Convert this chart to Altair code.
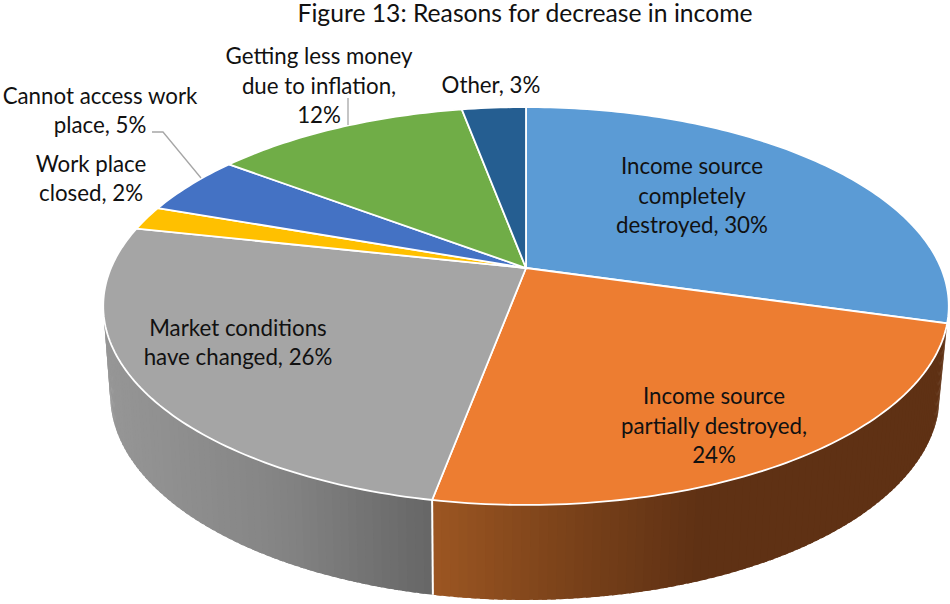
import math
import altair as alt

# Slice values in drawing order, clockwise from twelve o'clock
categories = [
    "Income source completely destroyed",
    "Income source partially destroyed",
    "Market conditions have changed",
    "Work place closed",
    "Cannot access work place",
    "Getting less money due to inflation",
    "Other",
]
values = [30, 24, 26, 2, 5, 12, 3]
slice_colors = ["#5B9BD5", "#ED7D31", "#A5A5A5", "#FFC000", "#4472C4", "#70AD47", "#255E91"]

TITLE = "Figure 13: Reasons for decrease in income"

# Text rows: string, horizontal centre, vertical centre
label_rows = [
    ("Income source", 692, 167), ("completely", 692, 197), ("destroyed, 30%", 692, 226),
    ("Income source", 714, 397), ("partially destroyed,", 714, 427), ("24%", 714, 456),
    ("Market conditions", 238, 329), ("have changed, 26%", 238, 358),
    ("Work place", 91, 165), ("closed, 2%", 91, 194),
    ("Cannot access work", 100, 97), ("place, 5%", 100, 126),
    ("Getting less money", 319, 57), ("due to inflation,", 319, 87), ("12%", 319, 116),
    ("Other, 3%", 491, 86),
]

# Perspective view of the disc: hub position, half-axes and foreshortening
HUB_X, HUB_Y = 526, 268
AX_X, AX_Y, PERSP = 415, 191.7, 0.191
# Ellipse centres and scale of the top and bottom rims
TOP_CX, TOP_CY = 526, 306
BOT_CX, BOT_CY = 525, 395
BOT_SX, BOT_SY = 415 / 423, 205 / 199


def top_point(fraction):
    a = 2 * math.pi * fraction
    u, v = math.sin(a), math.cos(a)
    w = 1 + PERSP * v
    return (HUB_X + AX_X * u / w, HUB_Y - AX_Y * v / w)


def bottom_point(fraction):
    x, y = top_point(fraction)
    return (BOT_CX + (x - TOP_CX) * BOT_SX, BOT_CY + (y - TOP_CY) * BOT_SY)


def mix(stops, x):
    """Interpolate a colour from (x, (r, g, b)) stops."""
    if x <= stops[0][0]:
        c = stops[0][1]
    elif x >= stops[-1][0]:
        c = stops[-1][1]
    else:
        for (x0, c0), (x1, c1) in zip(stops, stops[1:]):
            if x0 <= x <= x1:
                t = (x - x0) / (x1 - x0)
                c = tuple(a + (b - a) * t for a, b in zip(c0, c1))
                break
    return "#%02x%02x%02x" % tuple(round(p) for p in c)


def polygon(points, **props):
    ring = [list(p) for p in points] + [list(points[0])]
    return {"type": "Feature", "properties": props,
            "geometry": {"type": "Polygon", "coordinates": [ring]}}


def polyline(points, **props):
    return {"type": "Feature", "properties": props,
            "geometry": {"type": "LineString", "coordinates": [list(p) for p in points]}}


total = sum(values)
edges = [0.0]
for v in values:
    edges.append(edges[-1] + v / total)

# Shading of the rim walls, running left to right
orange_wall = [(433, (0x9C, 0x56, 0x22)), (560, (0x7C, 0x43, 0x1A)), (700, (0x5F, 0x31, 0x14))]
grey_wall = [(105, (0x96, 0x96, 0x96)), (280, (0x84, 0x84, 0x84)), (433, (0x66, 0x66, 0x66))]

# Each wall strip runs a little under the next one, so no seams show between them
wall_features = []
for first, last, stops in ((edges[1], edges[2], orange_wall), (edges[2], edges[3], grey_wall)):
    n = max(2, int((last - first) * 360))
    step = (last - first) / n
    for i in range(n):
        f0 = first + step * i
        f1 = min(last, f0 + step * 1.6)
        color = mix(stops, top_point(f0 + step / 2)[0])
        wall_features.append(polygon(
            [top_point(f0), top_point(f1), bottom_point(f1), bottom_point(f0)], fill=color))

top_features = []
for i, color in enumerate(slice_colors):
    n = max(2, int((edges[i + 1] - edges[i]) * 360))
    arc = [top_point(edges[i] + (edges[i + 1] - edges[i]) * j / n) for j in range(n + 1)]
    top_features.append(polygon([(HUB_X, HUB_Y)] + arc, fill=color, name=categories[i]))

seam = [polyline([top_point(edges[2]), bottom_point(edges[2])])]
leaders = [
    polyline([(152, 132), (163, 132), (201, 178)]),
    polyline([(348, 98), (348, 125)]),
]


def shapes(features, **mark):
    return alt.Chart(alt.Data(values=features)).mark_geoshape(**mark).project(
        type="identity", scale=1, translate=[0, 0])


walls = shapes(wall_features, strokeWidth=0).encode(
    fill=alt.Fill("properties.fill:N", scale=None),
)
seam_line = shapes(seam, filled=False, stroke="white", strokeWidth=2)
slices = shapes(top_features, stroke="white", strokeWidth=1.8).encode(
    fill=alt.Fill("properties.fill:N", scale=None),
)
leader_lines = shapes(leaders, filled=False, stroke="#A6A6A6", strokeWidth=1.3)

FONT = "Lato"
texts = alt.Chart(alt.Data(values=[{"t": t, "x": x, "y": y} for t, x, y in label_rows])).mark_text(
    font=FONT, fontSize=22.3, color="#111111", align="center", baseline="middle",
).encode(
    text="t:N",
    x=alt.X("x:Q", scale=None),
    y=alt.Y("y:Q", scale=None),
)
title_mark = alt.Chart(alt.Data(values=[{"t": TITLE, "x": 525, "y": 15}])).mark_text(
    font=FONT, fontSize=24.7, color="#111111", align="center", baseline="middle",
).encode(
    text="t:N",
    x=alt.X("x:Q", scale=None),
    y=alt.Y("y:Q", scale=None),
)

chart = alt.layer(walls, seam_line, slices, leader_lines, texts, title_mark).properties(
    width=950, height=604, padding=0, autosize=alt.AutoSizeParams(type="none"),
    background="white",
).configure_view(stroke=None)

chart.save("out.html", embed_options={"renderer": "svg", "actions": False})
